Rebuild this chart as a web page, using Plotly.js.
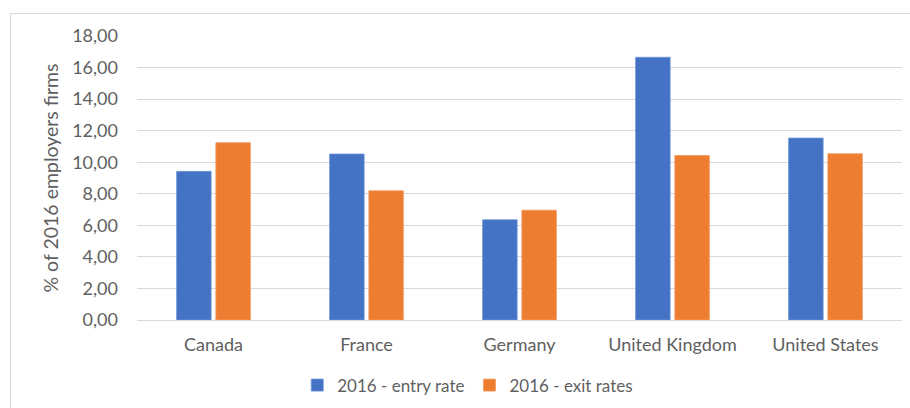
<!DOCTYPE html>
<html>
<head>
<meta charset="utf-8">
<script src="https://cdn.plot.ly/plotly-3.0.1.min.js"></script>
<style>
  html, body { margin: 0; padding: 0; background: #fff; }
  #wrap { position: relative; width: 910px; height: 408px; overflow: hidden; }
  #chart { position: absolute; left: 0; top: 0; width: 910px; height: 408px; }
  #frame { position: absolute; left: 10px; top: 13px; width: 920px; height: 420px; border: 1px solid #d9d9d9; pointer-events: none; }
</style>
</head>
<body>
<div id="wrap">
  <div id="chart"></div>
  <div id="frame"></div>
</div>
<script>
const countries = ["Canada", "France", "Germany", "United Kingdom", "United States"];
const entryRate = [9.42, 10.52, 6.35, 16.65, 11.53];
const exitRates = [11.24, 8.19, 6.96, 10.43, 10.54];
const seriesNames = ["2016 - entry rate", "2016 - exit rates"];
const yTicks = [0, 2, 4, 6, 8, 10, 12, 14, 16, 18];

const font = { family: "Lato, 'Open Sans', sans-serif", size: 18, color: "#5f5f5f" };
const legendFont = { family: "Lato, 'Open Sans', sans-serif", size: 17, color: "#5f5f5f" };
const titleFont = { family: "Lato, 'Open Sans', sans-serif", size: 19.5, color: "#5f5f5f" };

const traces = [
  { type: "bar", name: seriesNames[0], x: countries, y: entryRate,
    marker: { color: "#4472C4", line: { color: "#6f93d6", width: 0.8 } }, hoverinfo: "skip" },
  { type: "bar", name: seriesNames[1], x: countries, y: exitRates,
    marker: { color: "#ED7D31", line: { color: "#f29c62", width: 0.8 } }, hoverinfo: "skip" }
];

const layout = {
  width: 910, height: 408,
  margin: { l: 137, r: 8, t: 36, b: 88 },
  paper_bgcolor: "#ffffff", plot_bgcolor: "#ffffff",
  font: font,
  separators: ",.",
  barmode: "group",
  bargap: 0.487,
  bargroupgap: 0.12,
  showlegend: true,
  legend: {
    orientation: "h", xref: "container", yref: "container",
    x: 0.514, xanchor: "center", y: 0.055, yanchor: "middle",
    font: legendFont, itemwidth: 30, traceorder: "normal"
  },
  xaxis: {
    type: "category", showgrid: false, showline: false, zeroline: false,
    ticks: "", ticklabelstandoff: 12, tickfont: font, fixedrange: true
  },
  yaxis: {
    range: [0, 18], tickvals: yTicks, tickformat: ".2f",
    showgrid: true, gridcolor: "#d9d9d9", gridwidth: 1,
    zeroline: true, zerolinecolor: "#d9d9d9", zerolinewidth: 1,
    showline: false, ticks: "", ticklabelstandoff: 18, tickfont: font,
    title: { text: "% of 2016 employers firms", font: titleFont, standoff: 8 },
    fixedrange: true
  }
};

Plotly.newPlot("chart", traces, layout, { displayModeBar: false, staticPlot: true });
</script>
</body>
</html>
